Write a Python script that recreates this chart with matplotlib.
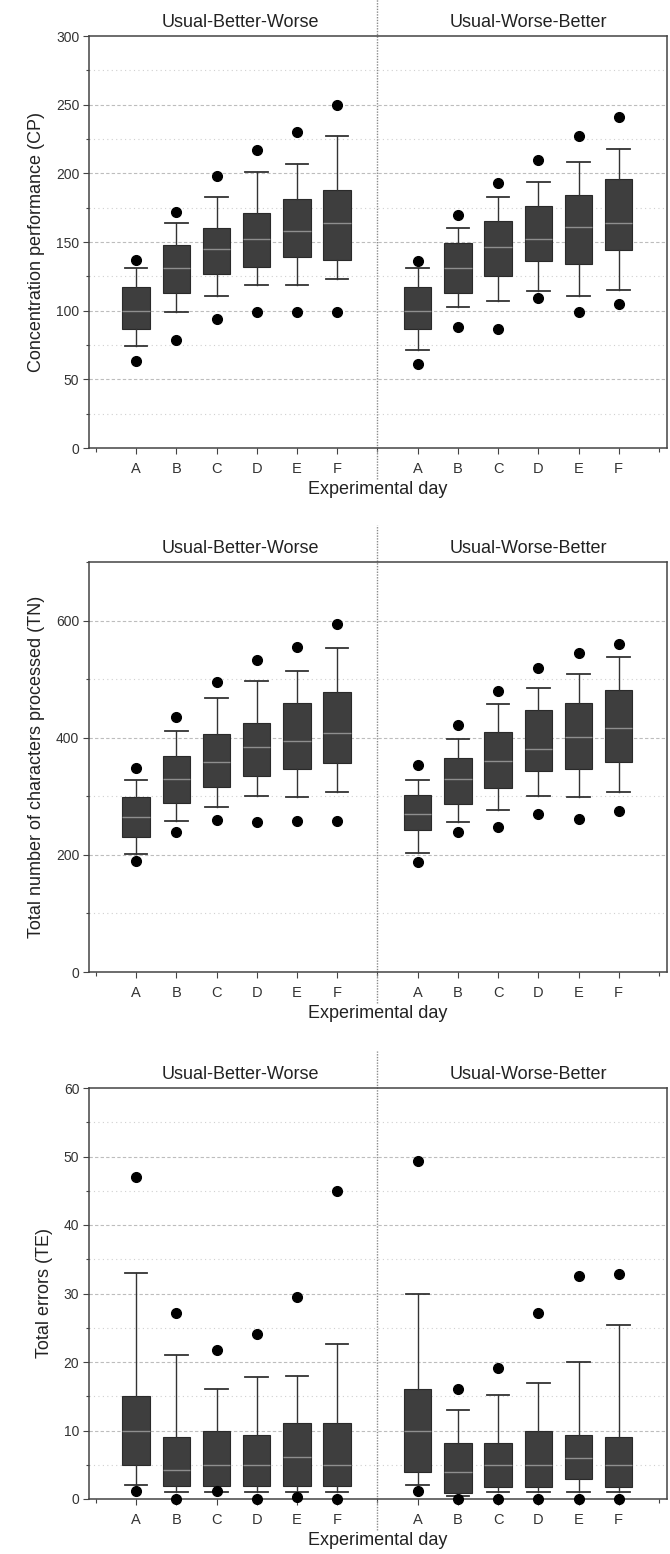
import matplotlib
matplotlib.use("Agg")
import matplotlib.pyplot as plt
import matplotlib.transforms as mtransforms
from matplotlib.ticker import MultipleLocator

plt.rcParams['font.family'] = ['Liberation Sans', 'DejaVu Sans']

groups = ['Usual-Better-Worse', 'Usual-Worse-Better']
days = ['A', 'B', 'C', 'D', 'E', 'F']

# Concentration performance (CP): left group A-F then right group A-F
cp_wlo = [74, 99, 111, 119, 119, 123, 71, 103, 107, 114, 111, 115]
cp_q1 = [87, 113, 127, 132, 139, 137, 87, 113, 125, 136, 134, 144]
cp_med = [100, 131, 145, 152, 158, 164, 100, 131, 146, 152, 161, 164]
cp_q3 = [117, 148, 160, 171, 181, 188, 117, 149, 165, 176, 184, 196]
cp_whi = [131, 164, 183, 201, 207, 227, 131, 160, 183, 194, 208, 218]
cp_lo = [63, 79, 94, 99, 99, 99, 61, 88, 87, 109, 99, 105]
cp_hi = [137, 172, 198, 217, 230, 250, 136, 170, 193, 210, 227, 241]

# Total number of characters processed (TN)
tn_wlo = [202, 258, 282, 300, 298, 307, 204, 256, 277, 300, 298, 308]
tn_q1 = [231, 288, 316, 334, 346, 357, 242, 286, 314, 343, 346, 358]
tn_med = [265, 330, 358, 385, 394, 408, 270, 330, 360, 381, 401, 416]
tn_q3 = [298, 369, 406, 425, 459, 478, 303, 366, 410, 447, 459, 482]
tn_whi = [328, 411, 468, 496, 514, 554, 328, 397, 458, 485, 509, 537]
tn_lo = [190, 239, 259, 256, 257, 257, 188, 239, 247, 269, 262, 275]
tn_hi = [348, 435, 495, 533, 555, 595, 353, 421, 480, 519, 545, 560]

# Total errors (TE)
te_wlo = [2, 1, 1, 1, 1, 1, 2, 0.5, 1, 1, 1, 1]
te_q1 = [5, 1.9, 1.9, 1.9, 1.9, 1.9, 4, 0.9, 1.8, 1.8, 2.9, 1.8]
te_med = [10, 4.2, 5, 5, 6.1, 5, 10, 4, 5, 5, 6, 5]
te_q3 = [15.1, 9.1, 9.9, 9.3, 11.1, 11.1, 16, 8.2, 8.2, 9.9, 9.3, 9.1]
te_whi = [33, 21, 16, 17.8, 18, 22.7, 30, 13, 15.2, 17, 20, 25.4]
te_lo = [1.1, 0, 1.1, 0, 0.3, 0, 1.1, 0, 0, 0, 0, 0]
te_hi = [47, 27.1, 21.8, 24.1, 29.5, 44.9, 49.3, 16, 19.1, 27.1, 32.5, 32.8]

panels = [
    dict(label='Concentration performance (CP)', ymax=300, major=50, minor=25,
         data=(cp_wlo, cp_q1, cp_med, cp_q3, cp_whi, cp_lo, cp_hi)),
    dict(label='Total number of characters processed (TN)', ymax=700, major=200, minor=100,
         data=(tn_wlo, tn_q1, tn_med, tn_q3, tn_whi, tn_lo, tn_hi)),
    dict(label='Total errors (TE)', ymax=60, major=10, minor=5,
         data=(te_wlo, te_q1, te_med, te_q3, te_whi, te_lo, te_hi)),
]

positions = [1, 2, 3, 4, 5, 6, 8, 9, 10, 11, 12, 13]
W, H = 670, 1554
fig = plt.figure(figsize=(W / 100, H / 100), dpi=100)

ax_px = [(36, 448), (562, 972), (1088, 1499)]
left_px, right_px = 89, 667

spine_col = '#444444'
for p, (top, bot) in zip(panels, ax_px):
    ax = fig.add_axes([left_px / W, (H - bot) / H, (right_px - left_px) / W, (bot - top) / H])
    wlo, q1, med, q3, whi, lo, hi = p['data']
    stats = []
    for i in range(len(positions)):
        stats.append(dict(whislo=wlo[i], q1=q1[i], med=med[i], q3=q3[i], whishi=whi[i],
                          fliers=[lo[i], hi[i]]))
    res = ax.bxp(stats, positions=positions, widths=0.68, patch_artist=True,
                 showfliers=True,
                 boxprops=dict(facecolor='#3e3e3e', edgecolor='#2a2a2a', linewidth=0.8),
                 medianprops=dict(color='#8e8e8e', linewidth=1.0),
                 whiskerprops=dict(color='#333333', linewidth=1.0),
                 capprops=dict(color='#333333', linewidth=1.3),
                 capwidths=0.56,
                 flierprops=dict(marker='o', markerfacecolor='black', markeredgecolor='black',
                                 markersize=7, linestyle='none'),
                 zorder=3)
    for fl in res['fliers']:
        fl.set_clip_on(False)
        fl.set_zorder(5)
    ax.set_xlim(-0.17, 14.2)
    ax.set_ylim(0, p['ymax'])
    ax.yaxis.set_major_locator(MultipleLocator(p['major']))
    ax.yaxis.set_minor_locator(MultipleLocator(p['minor']))
    # grid lines
    yv = p['minor']
    v = yv
    while v < p['ymax'] - 1e-9:
        is_major = abs((v / p['major']) - round(v / p['major'])) < 1e-9
        ax.axhline(v, color='#bdbdbd' if is_major else '#d0d0d0',
                   linestyle=(0, (3, 2)) if is_major else (0, (1, 3)),
                   linewidth=0.8, zorder=1)
        v += yv
    ax.set_xticks(positions)
    ax.set_xticklabels(days * 2, fontsize=10.5, color='#333333')
    ax.set_xticks([0, 7, 14], minor=True)
    ax.tick_params(axis='x', which='major', length=4, width=0.8, color=spine_col, pad=6)
    ax.tick_params(axis='x', which='minor', length=3, width=0.8, color=spine_col)
    ax.tick_params(axis='y', which='major', length=4, width=0.8, color=spine_col,
                   labelsize=10, labelcolor='#333333', pad=3)
    ax.tick_params(axis='y', which='minor', length=2, width=0.8, color=spine_col)
    for s in ax.spines.values():
        s.set_color(spine_col)
        s.set_linewidth(1.1)
    ax.set_ylabel(p['label'], fontsize=13, color='#222222', labelpad=8)
    ax.set_xlabel('Experimental day', fontsize=13, color='#222222', labelpad=4)
    trans = mtransforms.blended_transform_factory(ax.transData, ax.transAxes)
    ax.plot([7, 7], [-0.075, 1.09], transform=trans, color='#8a8a8a',
            linestyle=(0, (1, 1)), linewidth=1.0, clip_on=False, zorder=2)
    ax.text(3.6, 1.012, groups[0], transform=trans, ha='center', va='bottom',
            fontsize=13, color='#222222')
    ax.text(10.75, 1.012, groups[1], transform=trans, ha='center', va='bottom',
            fontsize=13, color='#222222')

fig.savefig('out.png', dpi=100)
